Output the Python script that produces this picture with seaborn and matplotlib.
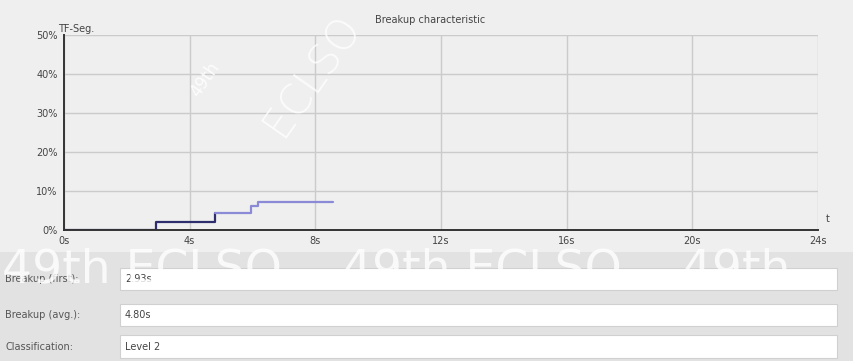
import numpy as np
import pandas as pd
import matplotlib
matplotlib.use("Agg")
import matplotlib.pyplot as plt
from matplotlib.patches import Rectangle
import seaborn as sns

# Tear film breakup steps (time in s, share of broken-up area in %)
early_t = [0.0, 2.93, 4.80]
early_tf = [0.0, 2.0, 4.4]
late_t = [4.80, 5.96, 6.17, 8.57]
late_tf = [4.4, 6.1, 7.3, 7.3]

x_ticks = [0, 4, 8, 12, 16, 20, 24]
x_labels = ["0s", "4s", "8s", "12s", "16s", "20s", "24s"]
y_ticks = [0, 10, 20, 30, 40, 50]
y_labels = ["0%", "10%", "20%", "30%", "40%", "50%"]

field_labels = ["Breakup (first):", "Breakup (avg.):", "Classification:"]
field_values = ["2.93s", "4.80s", "Level 2"]

df = pd.concat([
    pd.DataFrame({"t": early_t, "tf": early_tf, "phase": "early"}),
    pd.DataFrame({"t": late_t, "tf": late_tf, "phase": "late"}),
])

sns.set_theme(style="white")
plt.rcParams["font.family"] = ["DejaVu Sans"]

W, H = 854, 361
fig = plt.figure(figsize=(W / 100, H / 100), dpi=100)
fig.patch.set_facecolor("#e2e2e2")

# light chart panel behind the axes
fig.patches.append(Rectangle((0, (H - 252) / H), 1, 252 / H,
                             transform=fig.transFigure, facecolor="#efefef",
                             edgecolor="none", zorder=-10))

ax = fig.add_axes([64 / W, (H - 230) / H, (818 - 64) / W, 195 / H])
ax.set_facecolor("#efefef")
ax.set_zorder(1)

sns.lineplot(data=df, x="t", y="tf", hue="phase", ax=ax,
             palette={"early": "#2e2e6e", "late": "#8a8ad6"},
             drawstyle="steps-post", linewidth=1.6, legend=False,
             estimator=None, sort=False, zorder=4)

ax.set_xlim(0, 24)
ax.set_ylim(0, 50)
ax.set_xticks(x_ticks)
ax.set_xticklabels(x_labels)
ax.set_yticks(y_ticks)
ax.set_yticklabels(y_labels)
ax.set_xlabel("")
ax.set_ylabel("")
ax.grid(True, color="#cbcbcb", linewidth=1.0)
for s in ("top", "right"):
    ax.spines[s].set_visible(False)
for s in ("left", "bottom"):
    ax.spines[s].set_color("#333333")
    ax.spines[s].set_linewidth(1.4)
    ax.spines[s].set_zorder(5)
ax.tick_params(axis="both", direction="inout", length=5, width=1,
               color="#333333", labelsize=7, labelcolor="#444444", pad=2)

fig.text(430 / W, 1 - 20 / H, "Breakup characteristic", ha="center", va="center",
         fontsize=7, color="#444444")
fig.text(76 / W, 1 - 29 / H, "TF-Seg.", ha="center", va="center",
         fontsize=7, color="#444444")
fig.text(828 / W, 1 - 219 / H, "t", ha="center", va="center",
         fontsize=7, color="#444444")

# info fields below the chart
rows = [(268, 290), (304, 326), (335, 358)]
for (top, bot), lab, val in zip(rows, field_labels, field_values):
    fig.patches.append(Rectangle((120 / W, 1 - bot / H), (837 - 120) / W, (bot - top) / H,
                                 transform=fig.transFigure, facecolor="white",
                                 edgecolor="#d0d0d0", linewidth=0.8, zorder=1))
    yc = 1 - (top + bot) / 2 / H
    fig.text(5 / W, yc, lab, ha="left", va="center", fontsize=7, color="#555555")
    fig.text(125 / W, yc, val, ha="left", va="center", fontsize=7, color="#444444")

# watermarks
fig.text(205 / W, 1 - 80 / H, "49th", ha="center", va="center", rotation=55,
         fontsize=12, color="white", alpha=0.85, zorder=10)
fig.text(312 / W, 1 - 75 / H, "ECLSO", ha="center", va="center", rotation=55,
         fontsize=30, color="white", alpha=0.8, zorder=10, fontweight="light")
fig.text(2 / W, 1 - 270 / H, "49th ECLSO    49th ECLSO    49th", ha="left", va="center",
         fontsize=34, color="white", alpha=0.8, zorder=10)

fig.savefig("out.png", dpi=100, facecolor=fig.get_facecolor())
